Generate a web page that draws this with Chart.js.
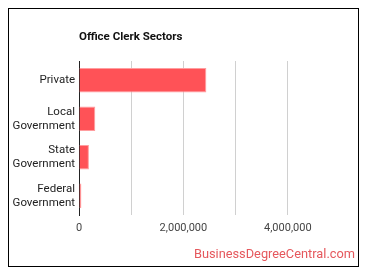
<!DOCTYPE html>
<html>
<head>
<meta charset="utf-8">
<script src="https://cdn.jsdelivr.net/npm/chart.js@4"></script>
<style>
  html, body { margin: 0; padding: 0; background: #fff; }
  #wrap { position: relative; width: 370px; height: 278px; overflow: hidden; }
  #frame { position: absolute; left: 8px; top: 8px; width: 349px; height: 257px; border: 1.5px solid #000; }
  #title { position: absolute; left: 79px; top: 29px; font: bold 11.5px Roboto, sans-serif; color: #111; }
  #credit { position: absolute; right: 15px; top: 246px; font: 12.8px Roboto, sans-serif; color: #e5585d; }
  canvas { position: absolute; left: 0; top: 0; }
</style>
</head>
<body>
<div id="wrap">
  <div id="frame"></div>
  <canvas id="chart" width="370" height="278"></canvas>
  <div id="title">Office Clerk Sectors</div>
  <div id="credit">BusinessDegreeCentral.com</div>
</div>
<script>
"use strict";

// ── Data ────────────────────────────────────────────────
const sectors   = [["Private"], ["Local", "Government"], ["State", "Government"], ["Federal", "Government"]];
const employees = [2440000, 312000, 190000, 46000];
const tickMax   = 5000000;
const tickStep  = 1000000;
const labelledTicks = [0, 2000000, 4000000];

// ── Chart ───────────────────────────────────────────────
const ctx = document.getElementById("chart").getContext("2d");

new Chart(ctx, {
  type: "bar",
  data: {
    labels: sectors,
    datasets: [{
      data: employees,
      backgroundColor: "#ff5257",
      borderColor: "#ff9d9f",
      borderWidth: 1,
      categoryPercentage: 0.64,
      barPercentage: 1,
    }],
  },
  options: {
    indexAxis: "y",
    responsive: false,
    animation: false,
    layout: { padding: { left: 0, right: 30, top: 61, bottom: 43 } },
    plugins: { legend: { display: false }, tooltip: { enabled: false } },
    scales: {
      x: {
        min: 0,
        max: tickMax,
        ticks: {
          stepSize: tickStep,
          color: "#444",
          font: { family: "Roboto", size: 11 },
          padding: 7,
          maxRotation: 0,
          callback: v => labelledTicks.includes(v) ? v.toLocaleString("en-US") : "",
        },
        grid: {
          drawTicks: false,
          color: c => c.tick && c.tick.value === tickMax ? "rgba(0,0,0,0)" : "#d0d0d0",
        },
        border: { display: false },
        afterFit: s => { s.height = 20; },
      },
      y: {
        ticks: {
          color: "#222",
          font: { family: "Roboto", size: 11.5 },
          padding: 4,
        },
        grid: { display: false, drawTicks: false },
        border: { color: "#222", width: 1 },
        afterFit: s => { s.width = 79; },
      },
    },
  },
});
</script>
</body>
</html>
